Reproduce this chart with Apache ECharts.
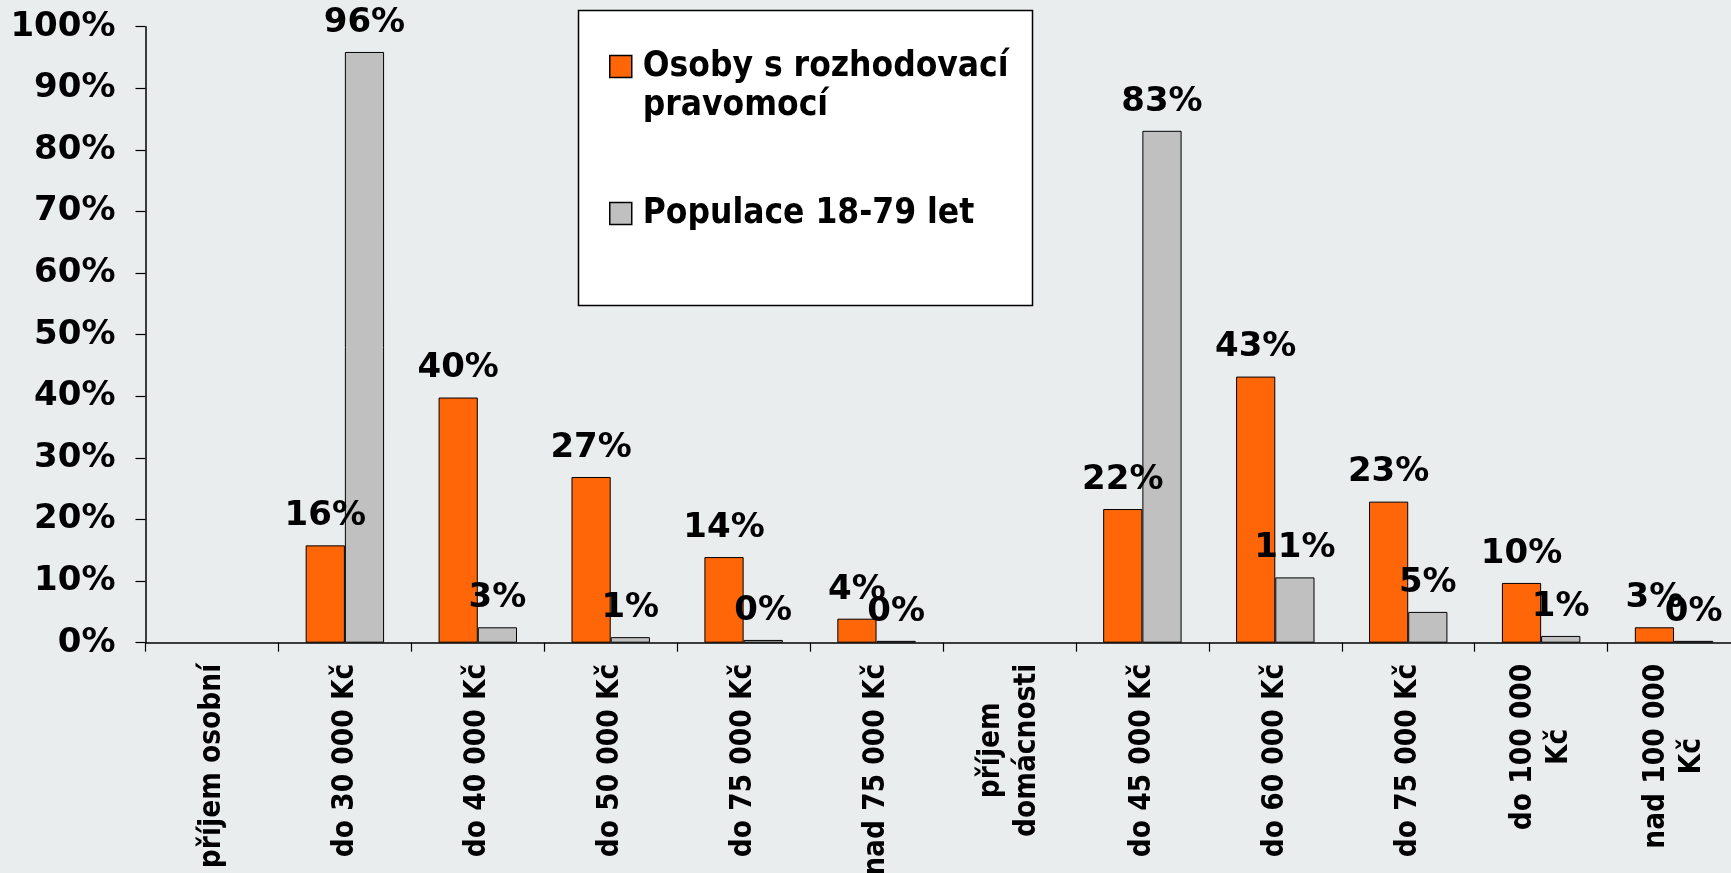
<!DOCTYPE html>
<html>
<head>
<meta charset="utf-8">
<script src="https://cdn.jsdelivr.net/npm/echarts@6/dist/echarts.min.js"></script>
<style>
html, body { margin: 0; padding: 0; background: #e9edee; }
#chart { width: 1731px; height: 873px; }
</style>
</head>
<body>
<div id="chart"></div>
<script>
const categories = ['příjem osobní', 'do 30 000 Kč', 'do 40 000 Kč', 'do 50 000 Kč', 'do 75 000 Kč', 'nad 75 000 Kč',
  'příjem\ndomácnosti', 'do 45 000 Kč', 'do 60 000 Kč', 'do 75 000 Kč', 'do 100 000\nKč', 'nad 100 000\nKč'];
const seriesNames = ['Osoby s rozhodovací pravomocí', 'Populace 18-79 let'];
const osobyValues = [null, 15.8, 39.8, 26.9, 13.9, 3.9, null, 21.7, 43.2, 22.9, 9.7, 2.5];
const populaceValues = [null, 95.9, 2.5, 0.9, 0.45, 0.3, null, 83.1, 10.6, 5.0, 1.1, 0.3];
const yTicks = { min: 0, max: 100, interval: 10 };

const BOLD = 'bold';
const FONT = 'DejaVu Sans';
const CFONT = '"DejaVu Sans Condensed", "DejaVu Sans"';

const chart = echarts.init(document.getElementById('chart'), null, { renderer: 'canvas' });

const labelOpt = {
  show: true,
  position: 'top',
  distance: 12,
  color: '#000',
  fontSize: 34,
  fontWeight: BOLD,
  fontFamily: FONT,
  formatter: p => Math.round(p.value) + '%'
};

const legendTextStyle = { color: '#000', fontSize: 35, fontWeight: BOLD, fontFamily: CFONT, lineHeight: 39 };

chart.setOption({
  backgroundColor: '#e9edee',
  animation: false,
  graphic: [{
    type: 'rect',
    z: 1,
    shape: { x: 578.5, y: 10.5, width: 454, height: 295 },
    style: { fill: '#ffffff', stroke: '#000000', lineWidth: 1.5 },
    silent: true
  }],
  legend: {
    orient: 'vertical',
    left: 609,
    top: 8,
    padding: 0,
    itemGap: 69,
    itemWidth: 22,
    itemHeight: 22,
    icon: 'rect',
    selectedMode: false,
    z: 5,
    itemStyle: { borderColor: '#000', borderWidth: 1.5 },
    textStyle: Object.assign({}, legendTextStyle, {
      padding: [0, 0, 0, 6],
      rich: {
        e: Object.assign({}, legendTextStyle),
        t: Object.assign({}, legendTextStyle)
      }
    }),
    data: [seriesNames[0], seriesNames[1]],
    formatter: name => name === seriesNames[0]
      ? '{e| }\n{t|Osoby s rozhodovací}\n{t|pravomocí}'
      : name
  },
  grid: {
    left: 145.5,
    top: 26.7,
    right: -9.5,
    bottom: 230.3,
    containLabel: false,
    outerBoundsMode: 'none'
  },
  xAxis: {
    type: 'category',
    data: categories,
    boundaryGap: true,
    axisLine: { show: true, lineStyle: { color: '#000', width: 1.5 } },
    axisTick: { show: true, length: 9, lineStyle: { color: '#000', width: 1.2 } },
    axisLabel: {
      interval: 0,
      rotate: 90,
      margin: 21,
      color: '#000',
      fontSize: 29.5,
      fontWeight: BOLD,
      fontFamily: CFONT,
      formatter: v => v.split('\n').map(s => '{c|' + s + '}').join('\n'),
      rich: {
        c: { align: 'center', fontSize: 29.5, fontWeight: BOLD, fontFamily: CFONT, color: '#000', lineHeight: 36 }
      }
    },
    splitLine: { show: false }
  },
  yAxis: {
    type: 'value',
    min: yTicks.min,
    max: yTicks.max,
    interval: yTicks.interval,
    axisLine: { show: true, lineStyle: { color: '#000', width: 1.5 } },
    axisTick: { show: true, inside: false, length: 10, lineStyle: { color: '#000', width: 1.2 } },
    axisLabel: {
      margin: 30,
      color: '#000',
      fontSize: 34,
      fontWeight: BOLD,
      fontFamily: FONT,
      formatter: '{value}%'
    },
    splitLine: { show: false }
  },
  series: [
    {
      name: seriesNames[0],
      type: 'bar',
      data: osobyValues,
      barGap: '0%',
      barCategoryGap: '41%',
      itemStyle: { color: '#ff6608', borderColor: '#000', borderWidth: 1 },
      label: labelOpt,
      emphasis: { disabled: true }
    },
    {
      name: seriesNames[1],
      type: 'bar',
      data: populaceValues,
      barGap: '0%',
      barCategoryGap: '41%',
      itemStyle: { color: '#c0c0c0', borderColor: '#000', borderWidth: 1 },
      label: labelOpt,
      emphasis: { disabled: true }
    }
  ]
});
</script>
</body>
</html>
